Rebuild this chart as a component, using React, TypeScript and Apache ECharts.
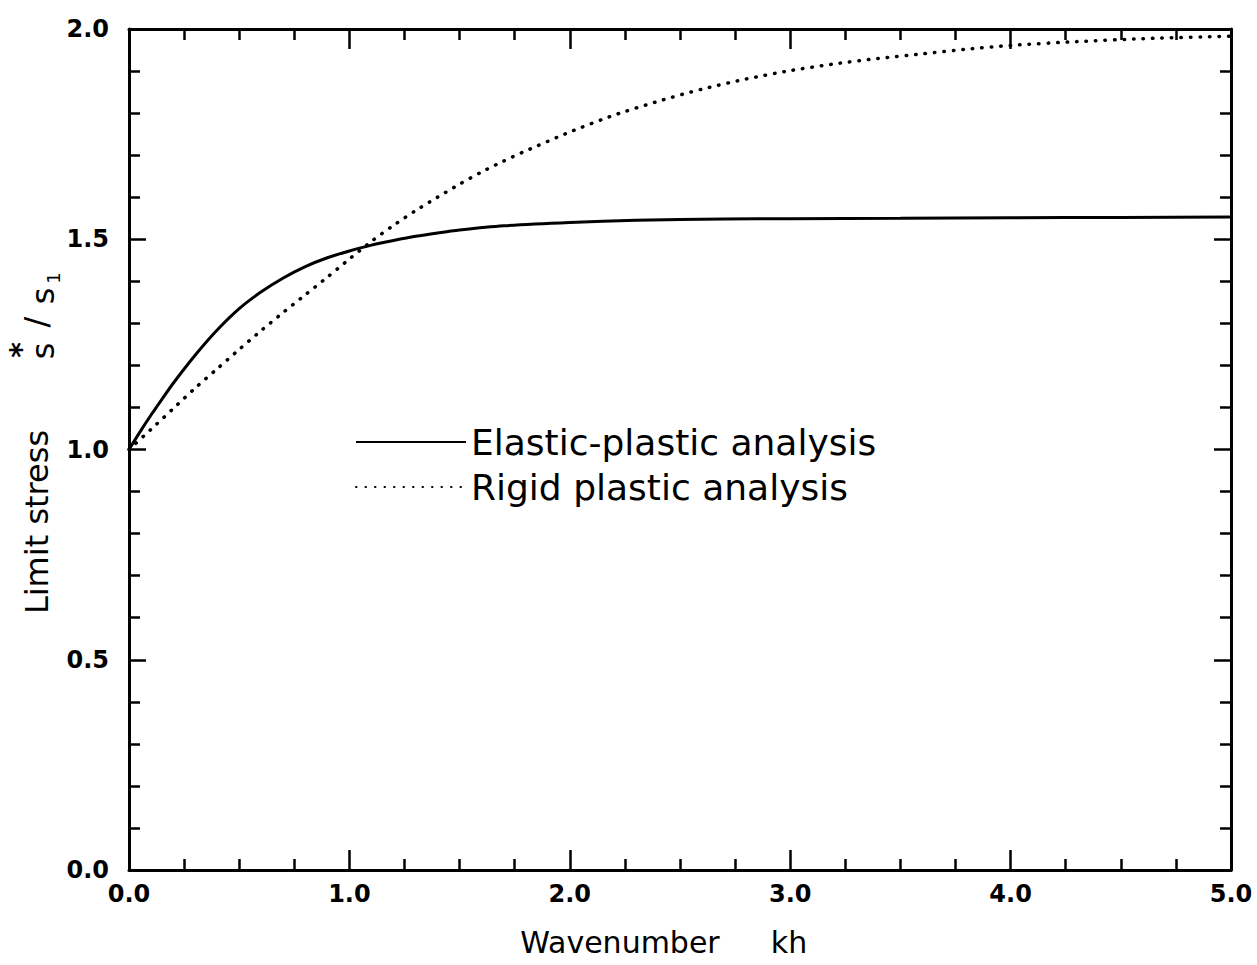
import React, { useEffect, useRef } from "react";
import * as echarts from "echarts";

// Wavenumber kh (x) values and limit stress s*/s1 (y) values
const elasticX = [0, 0.05, 0.1, 0.15, 0.2, 0.3, 0.4, 0.5, 0.6, 0.7, 0.8, 0.9, 1.0, 1.1, 1.2, 1.3, 1.4, 1.5, 1.7, 2.0, 2.3, 2.7, 3.0, 3.5, 4.0, 4.5, 5.0];
const elasticY = [1.0, 1.042, 1.082, 1.12, 1.157, 1.224, 1.284, 1.335, 1.375, 1.408, 1.435, 1.456, 1.472, 1.486, 1.497, 1.507, 1.515, 1.522, 1.532, 1.54, 1.545, 1.548, 1.549, 1.55, 1.551, 1.552, 1.553];

const rigidX = [0, 0.1, 0.2, 0.3, 0.4, 0.5, 0.6, 0.7, 0.8, 0.9, 1.0, 1.1, 1.2, 1.3, 1.4, 1.5, 1.6, 1.7, 1.8, 2.0, 2.2, 2.4, 2.6, 2.8, 3.0, 3.2, 3.4, 3.6, 3.8, 4.0, 4.3, 4.6, 5.0];
const rigidY = [1.0, 1.048, 1.097, 1.146, 1.192, 1.238, 1.283, 1.326, 1.368, 1.41, 1.453, 1.495, 1.533, 1.568, 1.6, 1.631, 1.66, 1.686, 1.71, 1.755, 1.795, 1.828, 1.857, 1.881, 1.901, 1.917, 1.93, 1.941, 1.952, 1.961, 1.97, 1.977, 1.983];

const seriesNames = ["Elastic-plastic analysis", "Rigid plastic analysis"];
const xName = ["Wavenumber", "kh"];
const yName = ["Limit stress", "s", "*", "/", "s", "1"];

const FONT = '"DejaVu Sans", sans-serif';

export default function App() {
  const ref = useRef<HTMLDivElement>(null);
  useEffect(() => {
    if (!ref.current) return;
    const chart = echarts.init(ref.current, null, { renderer: "svg" });
    const axisLine = { show: true, onZero: false, lineStyle: { color: "#000", width: 3 } };
    const mkX = (pos: "bottom" | "top", labels: boolean) => ({
      type: "value",
      position: pos,
      min: 0,
      max: 5,
      interval: 1,
      axisLine,
      axisTick: { show: true, inside: true, length: 20, lineStyle: { color: "#000", width: 2.5 } },
      minorTick: { show: true, splitNumber: 4, length: 11, lineStyle: { color: "#000", width: 2.5 } },
      splitLine: { show: false },
      minorSplitLine: { show: false },
      axisLabel: {
        show: labels,
        margin: 12,
        color: "#000",
        fontFamily: FONT,
        fontWeight: "bold",
        fontSize: 24,
        formatter: (v: number) => v.toFixed(1),
      },
    });
    const mkY = (pos: "left" | "right", labels: boolean) => ({
      type: "value",
      position: pos,
      min: 0,
      max: 2,
      interval: 0.5,
      axisLine,
      axisTick: { show: true, inside: true, length: 17, lineStyle: { color: "#000", width: 2.5 } },
      minorTick: { show: true, splitNumber: 5, length: 11, lineStyle: { color: "#000", width: 2.5 } },
      splitLine: { show: false },
      minorSplitLine: { show: false },
      axisLabel: {
        show: labels,
        margin: 20,
        color: "#000",
        fontFamily: FONT,
        fontWeight: "bold",
        fontSize: 24,
        formatter: (v: number) => v.toFixed(1),
      },
    });
    const txt = (text: string, x: number, y: number, size: number, rot = 0, weight = "normal") => ({
      type: "text",
      x,
      y,
      rotation: rot,
      style: {
        text,
        fontFamily: FONT,
        fontSize: size,
        fontWeight: weight,
        fill: "#000",
        align: "center",
        verticalAlign: "middle",
      },
    });
    const R = Math.PI / 2;
    chart.setOption({
      animation: false,
      backgroundColor: "#fff",
      grid: { left: 129, top: 29, right: 26, bottom: 95, containLabel: false },
      xAxis: [mkX("bottom", true), mkX("top", false)],
      yAxis: [mkY("left", true), mkY("right", false)],
      legend: {
        orient: "vertical",
        left: 350,
        top: 419,
        itemWidth: 110,
        itemHeight: 14,
        itemGap: 9,
        selectedMode: false,
        itemStyle: { opacity: 0 },
        textStyle: { fontFamily: FONT, fontSize: 36, lineHeight: 36, color: "#000" },
        data: [seriesNames[0], seriesNames[1]],
      },
      series: [
        {
          name: seriesNames[0],
          type: "line",
          xAxisIndex: 0,
          yAxisIndex: 0,
          symbol: "none",
          smooth: 0.25,
          lineStyle: { color: "#000", width: 3 },
          itemStyle: { color: "#000" },
          data: elasticX.map((x, i) => [x, elasticY[i]]),
        },
        {
          name: seriesNames[1],
          type: "line",
          xAxisIndex: 0,
          yAxisIndex: 0,
          symbol: "none",
          smooth: 0.25,
          lineStyle: { color: "#000", width: 3.5, type: [0.5, 9], cap: "round" },
          itemStyle: { color: "#000" },
          data: rigidX.map((x, i) => [x, rigidY[i]]),
        },
      ],
      graphic: [
        txt(xName[0], 620, 942, 30),
        txt(xName[1], 789, 942, 30),
        txt(yName[0], 37, 522, 32, R),
        txt(yName[1], 43, 351, 32, R),
        txt(yName[2], 20, 350, 30, R, "bold"),
        txt(yName[3], 36, 322, 32, R),
        txt(yName[4], 43, 296, 32, R),
        txt(yName[5], 53, 278, 18, R),
      ],
    });
    return () => chart.dispose();
  }, []);
  return <div ref={ref} style={{ position: "fixed", left: 0, top: 0, width: 1257, height: 965 }} />;
}
